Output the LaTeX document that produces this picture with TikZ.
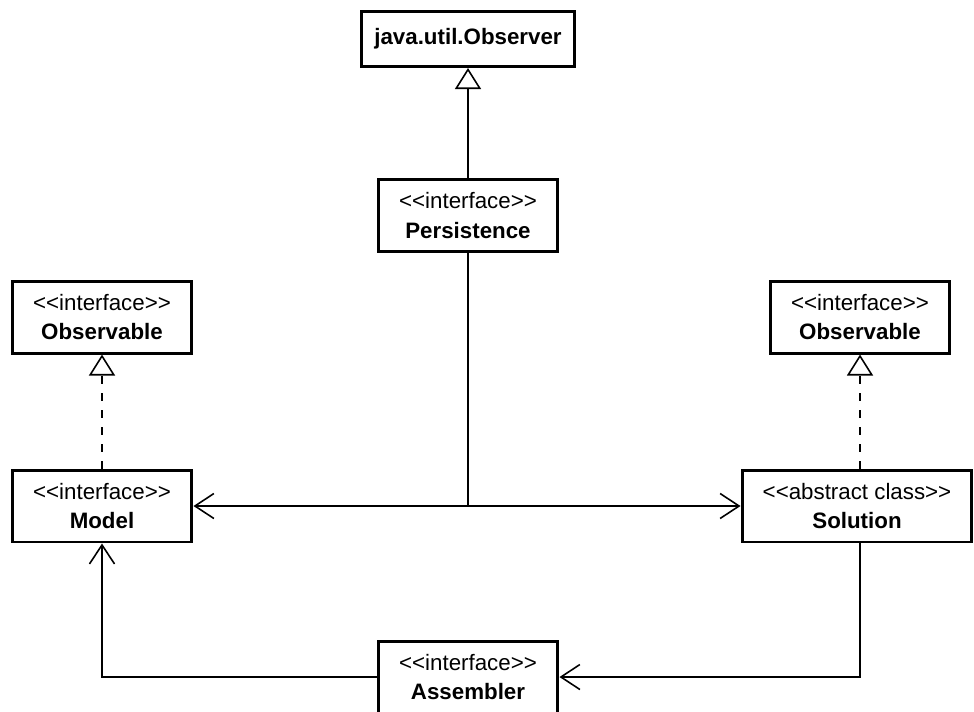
\documentclass[tikz,border=0pt]{standalone}
\usepackage{fontspec}
\setmainfont{Liberation Sans}
\usetikzlibrary{positioning,arrows.meta}

\newcommand{\stereo}[1]{<\kern0pt<#1>\kern0pt>}

\begin{document}
\begin{tikzpicture}[
    x=0.02cm,y=-0.02cm,
    font=\fontsize{12.7pt}{17pt}\selectfont,
    box/.style={rectangle,draw,line width=1.7pt,minimum width=3.6cm,minimum height=1.44cm,align=center,inner sep=2pt},
    inherit/.style={-{Triangle[open,length=0.42cm,width=0.52cm]},line width=0.9pt},
    realize/.style={inherit,dash pattern=on 0.16cm off 0.18cm},
    assoc/.style={-{Straight Barb[length=0.38cm,width=0.5cm]},line width=0.9pt}
    ]

    \useasboundingbox (0,0) rectangle (974,711);

    \node[box] (persist) at (468,215.5) {\stereo{interface}\\\textbf{Persistence}};
    \node[box,above=2.2cm of persist,minimum width=4.26cm,minimum height=1.1cm] (observer) {\textbf{java.util.Observer}};

    \node[box] (model) at (102,506) {\stereo{interface}\\\textbf{Model}};
    \node[box,above=2.28cm of model] (obsleft) {\stereo{interface}\\\textbf{Observable}};

    \node[box,minimum width=4.6cm] (solution) at (857,506) {\stereo{abstract class}\\\textbf{Solution}};
    \node[box,above=2.28cm of solution,xshift=0.06cm] (obsright) {\stereo{interface}\\\textbf{Observable}};

    \node[box] (assembler) at (468,677) {\stereo{interface}\\\textbf{Assembler}};

    \draw[inherit] (persist)--(observer);
    \draw[realize] (model)--(obsleft);
    \draw[realize] (solution.north -| obsright)--(obsright);

    \draw[assoc] (persist.south) |- (model.east);
    \draw[assoc] (persist.south) |- (solution.west);

    \draw[assoc] (assembler.west) -| (model.south);
    \draw[assoc] (solution.south -| obsright) |- (assembler.east);

  \end{tikzpicture}
\end{document}
